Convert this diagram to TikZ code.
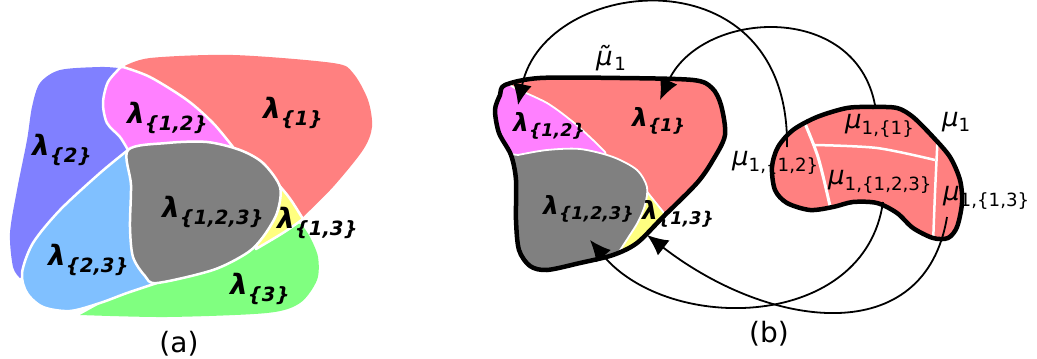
\documentclass[tikz,border=0pt]{standalone}
\usepackage{fontspec}
\setmainfont{DejaVu Sans}
\usetikzlibrary{arrows.meta,positioning}

\definecolor{lamred}{HTML}{FF8080}
\definecolor{lamblue}{HTML}{8080FF}
\definecolor{lampink}{HTML}{FF80FF}
\definecolor{lamsky}{HTML}{80C0FF}
\definecolor{lamgray}{HTML}{808080}
\definecolor{lamyellow}{HTML}{FFFF80}
\definecolor{lamgreen}{HTML}{80FF80}

\newcommand{\lam}[1]{\textbf{\textit{λ}}\textsubscript{\textbf{\textit{\{#1\}}}}}
\newcommand{\mus}[1]{\textit{μ}\textsubscript{#1}}

\tikzset{
  region/.style={draw=white, line width=2.5pt, line join=round},
  regionthin/.style={region, line width=1.8pt},
  divider/.style={draw=white, line width=2.5pt},
  rim/.style={draw=black, line width=4.5pt, line join=round},
  lab/.style={inner sep=0pt, anchor=west, font=\fontsize{28}{30}\selectfont},
  labsm/.style={lab, font=\fontsize{25}{27}\selectfont},
  mulab/.style={inner sep=0pt, anchor=west, font=\fontsize{26}{28}\selectfont},
  caption/.style={inner sep=0pt, font=\fontsize{28}{30}\selectfont},
  map/.style={line width=1.8pt, -{Latex[length=21pt,width=19pt]}},
}

\begin{document}
\begin{tikzpicture}[x=1pt, y=-1pt]
  \useasboundingbox (0,0) rectangle (1037,359);

  % (a) base regions
  \fill[lamblue] plot[smooth] coordinates {(118,68) (100,67) (60,70) (40,83) (32,107) (27,140) (17,190) (10,233) (13,267) (20,278)} -- (140,200) -- cycle;
  \fill[lamred] plot[smooth] coordinates {(123,67) (150,58) (233,55) (333,63) (353,73) (368,100) (372,127) (363,150) (333,187) (303,217)} -- (240,170) -- cycle;
  \fill[lamgreen] plot[smooth] coordinates {(80,315) (167,317) (267,313) (300,303) (317,280) (318,257) (310,237) (302,225)} -- (270,210) -- (170,265) -- cycle;

  % (a) overlaps
  \path[region, fill=lamsky] plot[smooth] coordinates {(128,150) (100,173) (60,210) (33,243) (22,273) (27,293) (43,307) (70,311) (100,303) (127,293) (157,283)} -- (140,220) -- cycle;
  \path[region, fill=lampink] plot[smooth] coordinates {(121,67) (108,82) (103,103) (107,123) (120,137) (128,150)} -- (200,160) -- plot[smooth] coordinates {(233,147) (213,123) (187,100) (150,77) (123,67)} -- cycle;
  \path[region, fill=lamyellow] (278,184) .. controls (290,198) .. (303,219) .. controls (285,232) .. (256,249) -- (262,215) -- cycle;
  \path[region, fill=lamgray] plot[smooth cycle] coordinates {(128,150) (167,143) (207,142) (240,150) (263,163) (280,187) (277,213) (263,237) (247,253) (213,270) (157,283) (145,276) (133,257) (130,227) (131,185)};

  \node[lab] (lam1) at (263,113) {\lam{1}};
  \node[lab] (lam2) at (32,150) {\lam{2}};
  \node[lab] (lam12) at (127,118) {\lam{1,2}};
  \node[lab] (lam123) at (162,212) {\lam{1,2,3}};
  \node[lab] (lam13) at (277,223) {\lam{1,3}};
  \node[lab] (lam23) at (48,260) {\lam{2,3}};
  \node[lab] (lam3) at (230,289) {\lam{3}};
  \node[caption] (capa) at (179,344) {(a)};

  % (b) lambda blob
  \fill[lamred, yshift=1.2pt] plot[smooth cycle] coordinates {(505,85) (540,78) (620,78) (693,80) (712,88) (721,105) (725,135) (713,160) (697,183) (663,217) (637,243) (613,255) (580,263) (547,270) (530,266) (519,250) (516,220) (516,180) (511,155) (499,133) (495,110) (500,95)};
  \begin{scope}
    \clip plot[smooth cycle] coordinates {(505,85) (540,78) (620,78) (693,80) (712,88) (721,105) (725,135) (713,160) (697,183) (663,217) (637,243) (613,255) (580,263) (547,270) (530,266) (519,250) (516,220) (516,180) (511,155) (499,133) (495,110) (500,95)};
    \fill[lamred] (480,60) rectangle (740,290);
    \path[regionthin, fill=lamyellow] (640,180) -- (648,193) -- (668,218) -- (668,260) -- (610,275) -- cycle;
    \path[regionthin, fill=lampink] (480,60) -- plot[smooth] coordinates {(505,80) (513,87) (547,103) (573,122) (593,140) (605,152)} -- (620,200) -- (480,200) -- cycle;
    \path[regionthin, fill=lamgray] (480,150) -- plot[smooth] coordinates {(518,155) (547,150) (580,149) (613,157) (637,170) (647,187) (645,205) (638,222) (628,238) (615,258)} -- (600,290) -- (480,290) -- cycle;
  \end{scope}
  \draw[rim] plot[smooth cycle] coordinates {(505,85) (540,78) (620,78) (693,80) (712,88) (721,105) (725,135) (713,160) (697,183) (663,217) (637,243) (613,255) (580,263) (547,270) (530,266) (519,250) (516,220) (516,180) (511,155) (499,133) (495,110) (500,95)};

  \node[labsm] (blam12) at (513,126) {\lam{1,2}};
  \node[labsm] (blam1) at (632,121) {\lam{1}};
  \node[labsm] (blam123) at (543,209) {\lam{1,2,3}};
  \node[labsm] (blam13) at (642,214) {\lam{1,3}};
  \node[mulab] (mut) at (596,58) {\textit{μ̃}\textsubscript{1}};

  % (b) mu blob
  \fill[lamred, yshift=1.2pt] plot[smooth cycle] coordinates {(873,107) (897,108) (913,117) (933,137) (950,157) (960,180) (962,203) (957,227) (948,238) (933,238) (913,228) (897,213) (877,203) (853,202) (833,207) (810,210) (787,203) (775,190) (772,167) (778,147) (793,130) (817,117) (847,108)};
  \begin{scope}
    \clip plot[smooth cycle] coordinates {(873,107) (897,108) (913,117) (933,137) (950,157) (960,180) (962,203) (957,227) (948,238) (933,238) (913,228) (897,213) (877,203) (853,202) (833,207) (810,210) (787,203) (775,190) (772,167) (778,147) (793,130) (817,117) (847,108)};
    \fill[lamred] (760,95) rectangle (975,250);
    \draw[divider, line width=3pt] plot[smooth] coordinates {(800,112) (818,157) (832,215)};
    \draw[divider] plot[smooth] coordinates {(815,145) (877,148) (935,160)};
    \draw[divider] plot[smooth] coordinates {(938,130) (935,193) (933,245)};
  \end{scope}
  \draw[rim] plot[smooth cycle] coordinates {(873,107) (897,108) (913,117) (933,137) (950,157) (960,180) (962,203) (957,227) (948,238) (933,238) (913,228) (897,213) (877,203) (853,202) (833,207) (810,210) (787,203) (775,190) (772,167) (778,147) (793,130) (817,117) (847,108)};

  \node[mulab] (mu11) at (845,126) {\mus{1,\{1\}}};
  \node[mulab] (mu1) at (942,122) {\mus{1}};
  \node[mulab] (mu112) at (732,163) {\mus{1,\{1,2\}}};
  \node[mulab] (mu1123) at (828,182) {\mus{1,\{1,2,3\}}};
  \node[mulab] (mu113) at (943,198) {\mus{1,\{1,3\}}};

  % maps between the blobs
  \coordinate (s12) at (787,147);
  \coordinate (t12) at (518,105);
  \coordinate (s1) at (875,105);
  \coordinate (t1) at (660,100);
  \coordinate (s123) at (883,202);
  \coordinate (t123) at (590,240);
  \coordinate (s13) at (947,217);
  \coordinate (t13) at (647,235);
  \draw[map] (s12) .. controls (790,-50) and (545,-25) .. (t12);
  \draw[map] (s1) .. controls (855,0) and (700,10) .. (t1);
  \draw[map] (s123) .. controls (865,330) and (670,335) .. (t123);
  \draw[map] (s13) .. controls (925,350) and (770,330) .. (t13);

  \node[caption] (capb) at (769,334) {(b)};
\end{tikzpicture}
\end{document}
